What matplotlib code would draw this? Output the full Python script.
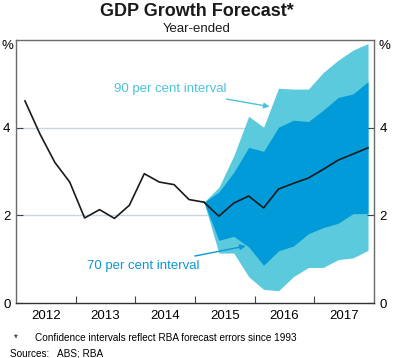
import matplotlib
matplotlib.use("Agg")
import matplotlib.pyplot as plt
import numpy as np

plt.rcParams['font.family'] = ['Liberation Sans', 'DejaVu Sans']

# Quarterly history: 2012Q1 .. 2015Q1
hist_q = ["2012Q1","2012Q2","2012Q3","2012Q4","2013Q1","2013Q2","2013Q3","2013Q4",
          "2014Q1","2014Q2","2014Q3","2014Q4","2015Q1"]
hist_vals = [4.61, 3.86, 3.21, 2.76, 1.94, 2.13, 1.93, 2.23, 2.95, 2.76, 2.70, 2.36, 2.30]

# Forecast: 2015Q1 .. 2017Q4
fc_q = ["2015Q1","2015Q2","2015Q3","2015Q4","2016Q1","2016Q2","2016Q3","2016Q4",
        "2017Q1","2017Q2","2017Q3","2017Q4"]
fc_central = [2.30, 1.98, 2.28, 2.44, 2.17, 2.60, 2.73, 2.85, 3.05, 3.26, 3.40, 3.54]
ci70_upper = [2.30, 2.53, 2.98, 3.55, 3.46, 4.01, 4.17, 4.14, 4.40, 4.69, 4.77, 5.05]
ci70_lower = [2.30, 1.43, 1.52, 1.28, 0.86, 1.19, 1.30, 1.58, 1.72, 1.82, 2.04, 2.04]
ci90_upper = [2.30, 2.64, 3.36, 4.26, 4.01, 4.90, 4.88, 4.88, 5.26, 5.54, 5.77, 5.92]
ci90_lower = [2.30, 1.14, 1.14, 0.60, 0.31, 0.28, 0.60, 0.81, 0.81, 0.99, 1.03, 1.20]

years = [2012, 2013, 2014, 2015, 2016, 2017]
y_ticks = [0, 2, 4]

def qpos(q):
    y, n = q.split("Q")
    return int(y) + (int(n) - 1) * 0.25 + 0.15

hx = [qpos(q) for q in hist_q]
fx = [qpos(q) for q in fc_q]

fig = plt.figure(figsize=(3.94, 3.58), dpi=100)
ax = fig.add_axes([16/394, 1-303/358, (374-16)/394, (303-40)/358])

c90 = '#5ccadd'
c70 = '#009bd8'
ax.fill_between(fx, ci90_lower, ci90_upper, color=c90, lw=0, zorder=1)
ax.fill_between(fx, ci70_lower, ci70_upper, color=c70, lw=0, zorder=2)
ax.plot(hx, hist_vals, color='#1a1a1a', lw=1.2, zorder=4)
ax.plot(fx, fc_central, color='#1a1a1a', lw=1.2, zorder=4)

ax.set_xlim(2012, 2018)
ax.set_ylim(0, 6)
for g in [2, 4]:
    ax.axhline(g, color='#c9d6e2', lw=1.0, zorder=0)

ax.set_xticks([y + 1 for y in years[:-1]])
ax.set_xticklabels([])
ax.set_xticks([y + 0.5 for y in years], minor=True)
ax.set_xticklabels([str(y) for y in years], minor=True, fontsize=9.5)
ax.tick_params(axis='x', which='major', direction='in', length=5, color='#444444')
ax.tick_params(axis='x', which='minor', length=0, pad=5)

ax.set_yticks(y_ticks)
ax.set_yticklabels([str(v) for v in y_ticks], fontsize=9.5)
ax.tick_params(axis='y', which='both', direction='in', length=5, left=True, right=True,
               labelleft=True, labelright=True, color='#444444', pad=4)

for s in ['top', 'left', 'right']:
    ax.spines[s].set_color('#6a6a6a')
    ax.spines[s].set_linewidth(1.0)
ax.spines['bottom'].set_color('#333333')
ax.spines['bottom'].set_linewidth(1.0)

fig.text(0.5, 1-12/358, "GDP Growth Forecast*", ha='center', va='center',
         fontsize=13, fontweight='bold', color='#1a1a1a')
fig.text(0.5, 1-29/358, "Year-ended", ha='center', va='center', fontsize=9.5, color='#1a1a1a')
fig.text(7/394, 1-46/358, "%", ha='center', va='center', fontsize=9.5)
fig.text(384/394, 1-46/358, "%", ha='center', va='center', fontsize=9.5)

ax.annotate("90 per cent interval", xy=(2016.25, 4.48),
            xytext=(2015.52, 4.88), textcoords='data', ha='right', va='center',
            fontsize=9.5, color='#4cc3dc',
            arrowprops=dict(arrowstyle='-|>', color='#4cc3dc', lw=1.0,
                            mutation_scale=8, shrinkA=5, shrinkB=0))
ax.annotate("70 per cent interval", xy=(2015.85, 1.30),
            xytext=(2015.08, 0.84), textcoords='data', ha='right', va='center',
            fontsize=9.5, color='#0a98d6',
            arrowprops=dict(arrowstyle='-|>', color='#0a98d6', lw=1.0,
                            mutation_scale=8, shrinkA=5, shrinkB=0))

fig.text(14/394, 1-338/358, "*", ha='left', va='center', fontsize=7)
fig.text(35/394, 1-338/358, "Confidence intervals reflect RBA forecast errors since 1993",
         ha='left', va='center', fontsize=7.2)
fig.text(10/394, 1-353/358, "Sources:   ABS; RBA", ha='left', va='center', fontsize=7.2)

fig.savefig("out.png", dpi=100)
